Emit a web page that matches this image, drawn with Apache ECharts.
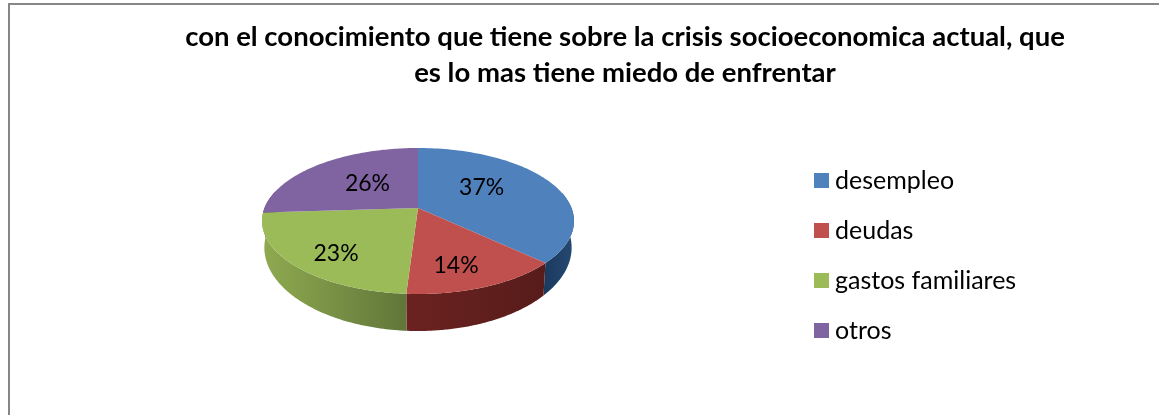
<!DOCTYPE html>
<html>
<head>
<meta charset="utf-8">
<style>html,body{margin:0;padding:0;background:#fff}#chart{width:1159px;height:415px}</style>
<script src="https://cdn.jsdelivr.net/npm/echarts@6/dist/echarts.min.js"></script>
</head>
<body>
<div id="chart"></div>
<script>
// Survey answers, in percent
var categories = ['desempleo', 'deudas', 'gastos familiares', 'otros'];
var percentages = [37, 14, 23, 26];
var chartTitle = 'con el conocimiento que tiene sobre la crisis socioeconomica actual, que\nes lo mas tiene miedo de enfrentar';

var faceColors = ['#4F81BD', '#C0504D', '#9BBB59', '#8064A2'];
var wallStops = [
  ['#1B3A5E', '#264A74'],
  ['#6B2220', '#571C1A'],
  ['#8FAA50', '#60763A'],
  ['#4C3B62', '#4C3B62']
];
// Per-slice label nudges around the mid-angle anchor
var labelNudge = [[-20, -4], [-1, 12], [-9, 12], [14, 3]];

// Tilted-disc projection: a unit circle seen in perspective
var apexX = 418, apexY = 208;
var radX = 153.5, radY = 70.7, tilt = 0.178;
var wallDepth = 37, wallShrink = 0.985;

function project(theta, r) {
  var u = Math.sin(theta) * r, v = Math.cos(theta) * r;
  var w = 1 + tilt * v;
  return [apexX + radX * u / w, apexY - radY * v / w];
}
function projectFloor(theta) {
  var p = project(theta, 1);
  var w = 1 + tilt * Math.cos(theta);
  var d = wallDepth * Math.pow((1 - tilt) / w, 2);
  return [apexX + (p[0] - apexX) * wallShrink, p[1] + d];
}

var total = percentages.reduce(function (a, b) { return a + b; }, 0);
var startAngles = [];
percentages.reduce(function (acc, v, i) {
  startAngles[i] = acc / total * Math.PI * 2;
  return acc + v;
}, 0);

function slicePainter(index) {
  return function () {
    var a0 = startAngles[index];
    var a1 = a0 + percentages[index] / total * Math.PI * 2;
    var steps = 90;
    var rim = [], floor = [];
    for (var i = 0; i <= steps; i++) {
      var t = a0 + (a1 - a0) * i / steps;
      rim.push(project(t, 1));
      // The wall only shows on the near side of the disc
      if (Math.cos(t) < 0.25) floor.push({ top: project(t, 1), low: projectFloor(t) });
    }
    var children = [];
    if (floor.length > 1) {
      var xs = floor.map(function (f) { return f.top[0]; });
      var wall = floor.map(function (f) { return f.top; })
        .concat(floor.map(function (f) { return f.low; }).reverse());
      children.push({
        type: 'polygon', z2: 1,
        shape: { points: wall },
        style: {
          fill: new echarts.graphic.LinearGradient(
            Math.min.apply(null, xs), 0, Math.max.apply(null, xs), 0,
            [{ offset: 0, color: wallStops[index][0] }, { offset: 1, color: wallStops[index][1] }],
            true)
        }
      });
    }
    children.push({
      type: 'polygon', z2: 5,
      shape: { points: [project(0, 0)].concat(rim) },
      style: { fill: faceColors[index] }
    });
    var mid = project((a0 + a1) / 2, 0.62);
    children.push({
      type: 'text', z2: 10,
      style: {
        x: mid[0] + labelNudge[index][0],
        y: mid[1] + labelNudge[index][1],
        text: percentages[index] + '%',
        fill: '#000',
        font: '23px Lato',
        align: 'center',
        verticalAlign: 'middle'
      }
    });
    return { type: 'group', children: children };
  };
}

var chart = echarts.init(document.getElementById('chart'), null, { renderer: 'canvas' });
chart.setOption({
  animation: false,
  backgroundColor: '#fff',
  title: {
    text: chartTitle,
    left: 620, top: 14, textAlign: 'center',
    textStyle: { fontFamily: 'Lato', fontWeight: 'bold', fontSize: 27.5, lineHeight: 36, color: '#000' }
  },
  legend: {
    left: 814, top: 168, padding: 0,
    orient: 'vertical',
    icon: 'rect', itemWidth: 15, itemHeight: 15, itemGap: 25,
    selectedMode: false,
    data: categories,
    textStyle: { fontFamily: 'Lato', fontSize: 25, color: '#000', padding: [0, 0, 0, 1] }
  },
  graphic: [{
    type: 'rect', silent: true,
    shape: { x: 9, y: 4, width: 1300, height: 600 },
    style: { fill: 'none', stroke: '#868686', lineWidth: 2 }
  }],
  series: categories.map(function (name, i) {
    return {
      type: 'custom', name: name, coordinateSystem: 'none',
      itemStyle: { color: faceColors[i] },
      data: [percentages[i]],
      renderItem: slicePainter(i)
    };
  })
});
</script>
</body>
</html>
